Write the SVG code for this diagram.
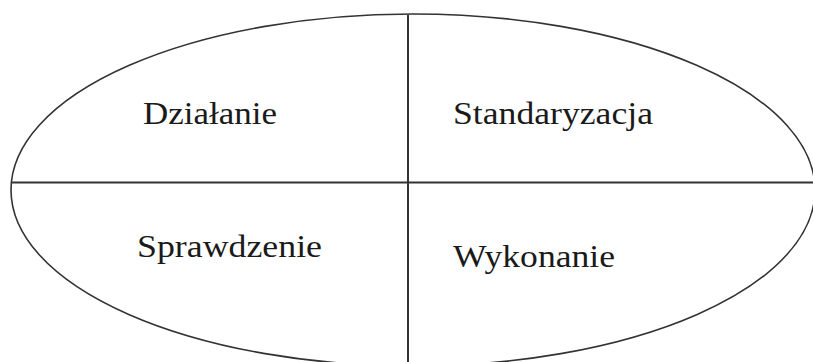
<svg xmlns="http://www.w3.org/2000/svg" width="813" height="362" viewBox="0 0 813 362">
<style>
.shape{fill:none;stroke:#333;stroke-width:1.6}
.div{stroke:#333;stroke-width:2}
.lbl{font-family:"Liberation Serif","Times New Roman",serif;font-size:31px;fill:#1a1a1a}
</style>
<rect width="813" height="362" fill="#fff"/>
<g id="ellipse"><ellipse class="shape" cx="413" cy="190" rx="402" ry="176"/></g>
<g id="connectors">
<line class="div" x1="408" y1="15" x2="408" y2="362"/>
<line class="div" x1="12" y1="182.5" x2="813" y2="182.5"/>
</g>
<g id="dzialanie"><text class="lbl" x="143" y="124" textLength="134" lengthAdjust="spacingAndGlyphs">Działanie</text></g>
<g id="standaryzacja"><text class="lbl" x="453" y="124" textLength="200" lengthAdjust="spacingAndGlyphs">Standaryzacja</text></g>
<g id="sprawdzenie"><text class="lbl" x="137" y="257" textLength="185" lengthAdjust="spacingAndGlyphs">Sprawdzenie</text></g>
<g id="wykonanie"><text class="lbl" x="453" y="267" textLength="162" lengthAdjust="spacingAndGlyphs">Wykonanie</text></g>
</svg>
